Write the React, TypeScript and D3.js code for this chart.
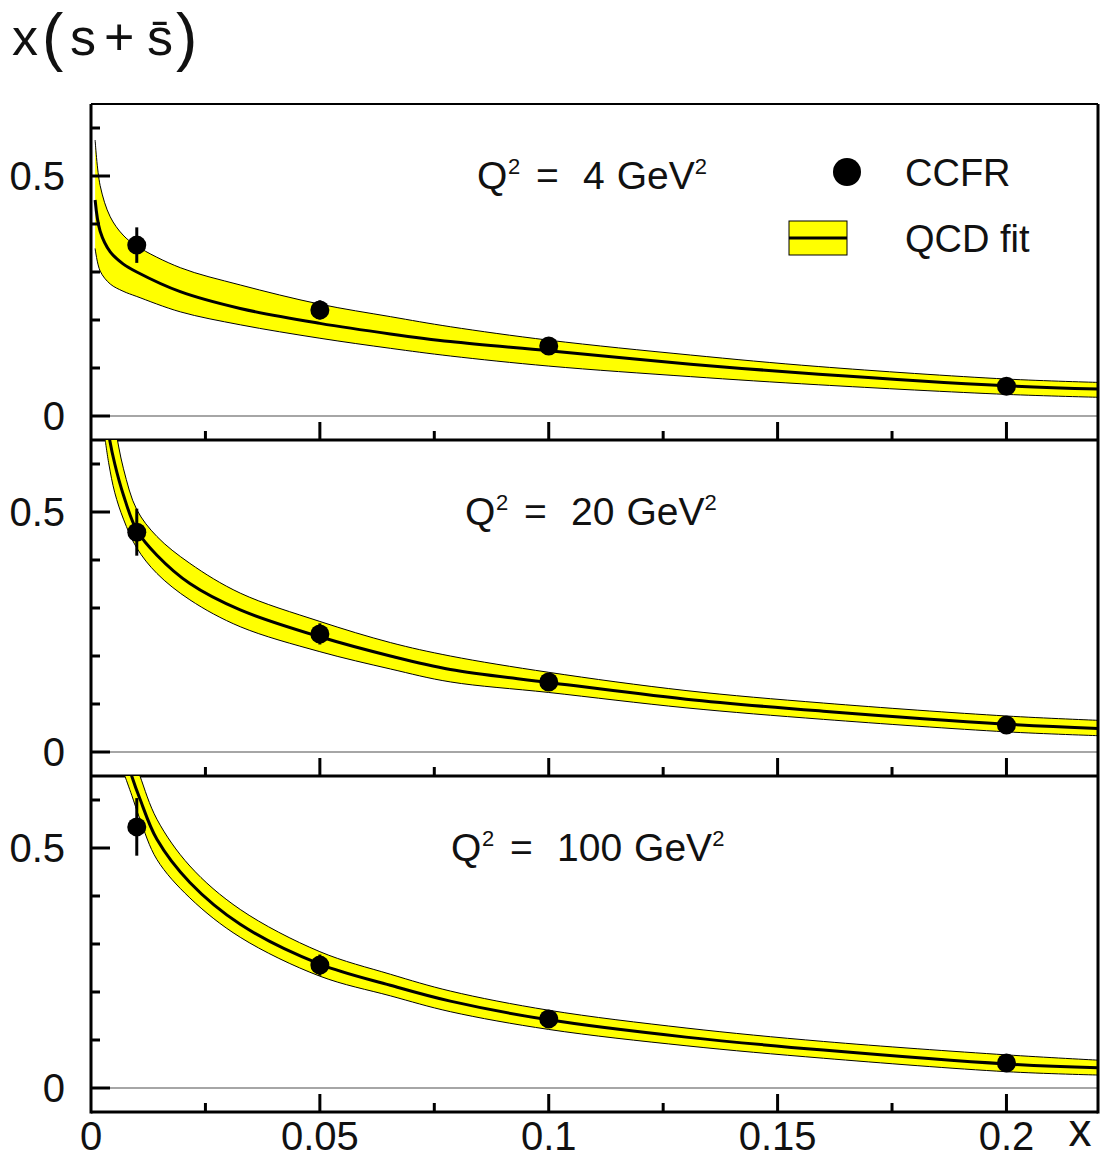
import React from "react";
import * as d3 from "d3";

// ---------- data ----------
const xTickMajor = [0, 0.05, 0.1, 0.15, 0.2];
const xTickLabels = ["0", "0.05", "0.1", "0.15", "0.2"];
const xTickMinor = [0.025, 0.075, 0.125, 0.175];
const yTickMajor = [0, 0.5];
const yTickLabels = ["0", "0.5"];
const yTickMinor = [0.1, 0.2, 0.3, 0.4, 0.6];

const q2Labels = ["4", "20", "100"];

// CCFR points
const ccfrX = [0.01, 0.05, 0.1, 0.2];
const ccfrQ4 = [0.356, 0.221, 0.146, 0.062];
const ccfrQ4Err = [0.037, 0.02, 0.009, 0.006];
const ccfrQ20 = [0.458, 0.246, 0.146, 0.056];
const ccfrQ20Err = [0.049, 0.022, 0.009, 0.006];
const ccfrQ100 = [0.544, 0.256, 0.144, 0.052];
const ccfrQ100Err = [0.06, 0.022, 0.009, 0.006];

// QCD fit, Q2 = 4
const fitQ4X = [0.0009, 0.002, 0.0042, 0.007, 0.01, 0.0195, 0.0326, 0.05, 0.0654, 0.0785, 0.1, 0.131, 0.159, 0.2, 0.22];
const fitQ4C = [0.45, 0.385, 0.342, 0.317, 0.3, 0.259, 0.224, 0.193, 0.171, 0.155, 0.136, 0.108, 0.087, 0.063, 0.056];
const fitQ4Hi = [0.575, 0.48, 0.415, 0.377, 0.354, 0.309, 0.273, 0.233, 0.207, 0.186, 0.158, 0.127, 0.103, 0.077, 0.07];
const fitQ4Lo = [0.349, 0.302, 0.275, 0.26, 0.249, 0.217, 0.19, 0.162, 0.141, 0.125, 0.104, 0.082, 0.065, 0.045, 0.039];

// QCD fit, Q2 = 20
const fitQ20X = [0.0031, 0.0039, 0.0052, 0.0071, 0.01, 0.0144, 0.0216, 0.0326, 0.05, 0.0654, 0.0785, 0.1, 0.13, 0.16, 0.2, 0.22];
const fitQ20C = [0.72, 0.66, 0.6, 0.535, 0.462, 0.41, 0.351, 0.296, 0.24, 0.2, 0.172, 0.145, 0.11, 0.085, 0.058, 0.049];
const fitQ20Hi = [0.82, 0.75, 0.68, 0.59, 0.505, 0.449, 0.393, 0.331, 0.272, 0.228, 0.2, 0.166, 0.128, 0.102, 0.075, 0.066];
const fitQ20Lo = [0.65, 0.6, 0.54, 0.485, 0.425, 0.372, 0.317, 0.261, 0.209, 0.173, 0.146, 0.124, 0.092, 0.068, 0.042, 0.034];

// QCD fit, Q2 = 100
const fitQ100X = [0.0074, 0.0089, 0.0107, 0.0144, 0.0216, 0.0326, 0.05, 0.0654, 0.0785, 0.1, 0.13, 0.16, 0.2, 0.22];
const fitQ100C = [0.7, 0.65, 0.602, 0.518, 0.428, 0.341, 0.258, 0.214, 0.181, 0.142, 0.106, 0.079, 0.05, 0.042];
const fitQ100Hi = [0.76, 0.7, 0.65, 0.56, 0.4625, 0.372, 0.284, 0.237, 0.202, 0.162, 0.125, 0.097, 0.069, 0.058];
const fitQ100Lo = [0.65, 0.61, 0.56, 0.476, 0.396, 0.314, 0.233, 0.192, 0.159, 0.122, 0.088, 0.062, 0.034, 0.027];

const panels = [
  { q2: q2Labels[0], y: ccfrQ4, err: ccfrQ4Err, fx: fitQ4X, fc: fitQ4C, fh: fitQ4Hi, fl: fitQ4Lo, lx: 477 },
  { q2: q2Labels[1], y: ccfrQ20, err: ccfrQ20Err, fx: fitQ20X, fc: fitQ20C, fh: fitQ20Hi, fl: fitQ20Lo, lx: 465 },
  { q2: q2Labels[2], y: ccfrQ100, err: ccfrQ100Err, fx: fitQ100X, fc: fitQ100C, fh: fitQ100Hi, fl: fitQ100Lo, lx: 451 },
];

// ---------- layout ----------
const W = 1102;
const H = 1158;
const left = 91;
const right = 1098;
const top0 = 104;
const ph = 336;
const FONT = "'Liberation Sans', Arial, sans-serif";

const x = d3.scaleLinear().domain([0, 0.22]).range([left, right]);
const curve = d3.curveCatmullRom.alpha(0.5);

export default function App() {
  const bottom = top0 + ph * 3;
  return (
    <svg width={W} height={H} style={{ position: "absolute", left: 0, top: 0, background: "#fff" }}
      fontFamily={FONT}>
      <defs>
        {panels.map((p, i) => (
          <clipPath id={`clip${i}`} key={i}>
            <rect x={left} y={top0 + ph * i} width={right - left} height={ph} />
          </clipPath>
        ))}
      </defs>

      {/* title */}
      <text y={55} fontSize={52} fill="#111">
        <tspan x={12}>x</tspan>
        <tspan x={42} fontSize={64} dy={4}>(</tspan>
        <tspan x={70} dy={-4}>s</tspan>
        <tspan x={104}>+</tspan>
        <tspan x={147}>s̄</tspan>
        <tspan x={176} fontSize={64} dy={4}>)</tspan>
      </text>

      {panels.map((p, i) => {
        const pt = top0 + ph * i;
        const pb = pt + ph;
        const y = d3.scaleLinear().domain([-0.05, 0.65]).range([pb, pt]);
        const pts = p.fx.map((xv, k) => ({ x: xv, c: p.fc[k], h: p.fh[k], l: p.fl[k] }));
        const area = d3.area<any>().x(d => x(d.x)).y0(d => y(d.l)).y1(d => y(d.h)).curve(curve);
        const lineC = d3.line<any>().x(d => x(d.x)).y(d => y(d.c)).curve(curve);
        const lineH = d3.line<any>().x(d => x(d.x)).y(d => y(d.h)).curve(curve);
        const lineL = d3.line<any>().x(d => x(d.x)).y(d => y(d.l)).curve(curve);
        const y0 = y(0);
        const lblY = pt + 85;
        return (
          <g key={i}>
            {/* zero line */}
            <line x1={left} x2={right} y1={y0} y2={y0} stroke="#888" strokeWidth={1.5} />
            <g clipPath={`url(#clip${i})`}>
              <path d={area(pts) || ""} fill="#ffff00" stroke="none" />
              <path d={lineH(pts) || ""} fill="none" stroke="#000" strokeWidth={1} />
              <path d={lineL(pts) || ""} fill="none" stroke="#000" strokeWidth={1} />
              <path d={lineC(pts) || ""} fill="none" stroke="#000" strokeWidth={3} />
              {ccfrX.map((xv, k) => (
                <g key={k}>
                  <line x1={x(xv)} x2={x(xv)} y1={y(p.y[k] - p.err[k])} y2={y(p.y[k] + p.err[k])}
                    stroke="#000" strokeWidth={3} />
                  <circle cx={x(xv)} cy={y(p.y[k])} r={9.5} fill="#000" />
                </g>
              ))}
            </g>
            {/* y ticks */}
            {yTickMajor.map((t, k) => (
              <g key={"ym" + k}>
                <line x1={left} x2={left + 19} y1={y(t)} y2={y(t)} stroke="#000" strokeWidth={3} />
                <text x={65} y={y(t) + 14} fontSize={40} textAnchor="end" fill="#111">{yTickLabels[k]}</text>
              </g>
            ))}
            {yTickMinor.map((t, k) => (
              <line key={"yn" + k} x1={left} x2={left + 9} y1={y(t)} y2={y(t)} stroke="#000" strokeWidth={3} />
            ))}
            {/* x ticks */}
            {xTickMajor.filter(t => t > 0).map((t, k) => (
              <line key={"xm" + k} x1={x(t)} x2={x(t)} y1={pb} y2={pb - 18} stroke="#000" strokeWidth={3} />
            ))}
            {xTickMinor.map((t, k) => (
              <line key={"xn" + k} x1={x(t)} x2={x(t)} y1={pb} y2={pb - 9} stroke="#000" strokeWidth={3} />
            ))}
            {/* panel label */}
            <text y={lblY} fontSize={39} fill="#111">
              <tspan x={p.lx}>Q</tspan>
              <tspan x={p.lx + 31} dy={-15} fontSize={22}>2</tspan>
              <tspan x={p.lx + 59} dy={15}>=</tspan>
              <tspan x={p.lx + 106}>{p.q2}</tspan>
              <tspan dx={12}>GeV</tspan>
              <tspan dy={-15} fontSize={22}>2</tspan>
            </text>
            {/* separator / bottom line */}
            <line x1={left} x2={right} y1={pb} y2={pb} stroke="#000" strokeWidth={3} />
          </g>
        );
      })}

      {/* frame */}
      <line x1={left} x2={right} y1={top0} y2={top0} stroke="#000" strokeWidth={2} />
      <line x1={left} x2={left} y1={top0} y2={bottom + 1.5} stroke="#000" strokeWidth={3} />
      <line x1={right} x2={right} y1={top0} y2={bottom + 1.5} stroke="#000" strokeWidth={3} />

      {/* x tick labels */}
      {xTickMajor.map((t, k) => (
        <text key={"xl" + k} x={x(t)} y={1150} fontSize={40} textAnchor="middle" fill="#111">{xTickLabels[k]}</text>
      ))}
      <text x={1080} y={1146} fontSize={46} textAnchor="middle" fill="#111">x</text>

      {/* legend */}
      <circle cx={847} cy={172} r={14} fill="#000" />
      <text x={905} y={186} fontSize={38} fill="#111">CCFR</text>
      <rect x={789} y={221} width={58} height={34} fill="#ffff00" stroke="#000" strokeWidth={1} />
      <line x1={789} x2={847} y1={238} y2={238} stroke="#000" strokeWidth={3} />
      <text x={905} y={252} fontSize={38} fill="#111">QCD fit</text>
    </svg>
  );
}
